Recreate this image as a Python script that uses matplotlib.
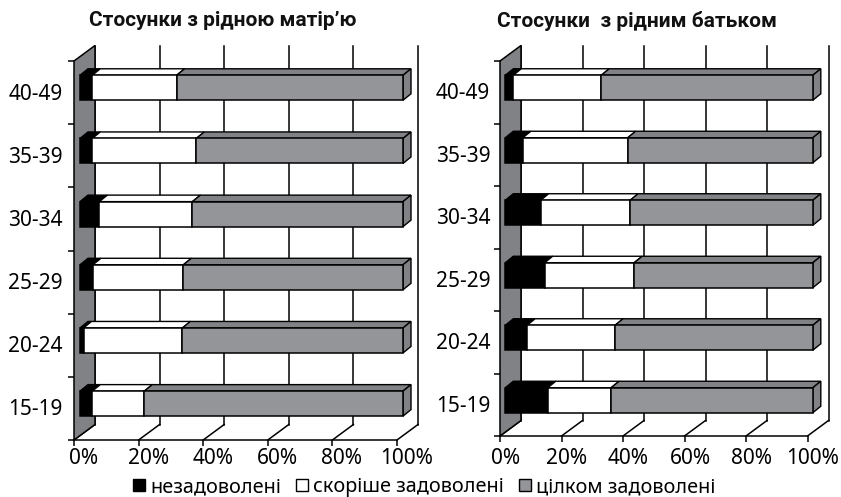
import matplotlib.pyplot as plt
from matplotlib.patches import Patch, Polygon
from matplotlib.transforms import Affine2D

plt.rcParams['font.family'] = ['Noto Sans', 'DejaVu Sans']

W, H = 841, 497

ages = ['15-19', '20-24', '25-29', '30-34', '35-39', '40-49']
series_names = ['незадоволені', 'скоріше задоволені', 'цілком задоволені']
x_ticks = [0, 20, 40, 60, 80, 100]

# значення знизу вгору, від 15-19 до 40-49
mother_no = [3.8, 1.1, 4.0, 6.0, 3.8, 3.8]
mother_rather = [16.1, 30.6, 28.0, 28.8, 32.2, 26.1]
mother_full = [80.1, 68.3, 68.0, 65.2, 64.0, 70.1]

father_no = [13.8, 7.1, 12.8, 11.5, 5.7, 2.6]
father_rather = [20.6, 28.6, 29.1, 29.1, 34.1, 28.6]
father_full = [65.6, 64.3, 58.1, 59.4, 60.2, 68.8]

colors = ['#000000', '#ffffff', '#939598']
top_colors = ['#000000', '#ffffff', '#808285']
wall_color = '#808285'


def draw_panel(rect, title, title_x, values, bar_shift, pad, label_shift, x_pad):
    x0, y0, x1, y1 = rect  # передня площина, пікселі від верхнього краю
    ax = fig.add_axes([x0 / W, 1 - y1 / H, (x1 - x0) / W, (y1 - y0) / H])
    ax.set_xlim(0, 100)
    ax.set_ylim(0, len(ages))
    px_x = (x1 - x0) / 100
    px_y = (y1 - y0) / len(ages)

    # глибина стінок і смуг у одиницях даних
    dx, dy = 21 / px_x, 15.5 / px_y
    bx, by = 8 / px_x, 6.5 / px_y
    sx, sy = bar_shift[0] / px_x, bar_shift[1] / px_y
    thick = 25 / px_y

    for v in x_ticks:
        ax.plot([v, v + dx], [0, dy], color='black', lw=1.1, clip_on=False, zorder=1)
        ax.plot([v + dx, v + dx], [dy, len(ages) + dy], color='black', lw=1.1,
                clip_on=False, zorder=1)

    ax.add_patch(Polygon([(0, 0), (dx, dy), (dx, len(ages) + dy), (0, len(ages))],
                         closed=True, fc=wall_color, ec='black', lw=1.1,
                         clip_on=False, zorder=2))

    for i in range(len(ages)):
        left = sx
        yb = i + 0.5 + sy - thick / 2
        yt = yb + thick
        for s in range(3):
            v = values[s][i]
            ax.add_patch(Polygon([(left, yt), (left + bx, yt + by),
                                  (left + v + bx, yt + by), (left + v, yt)],
                                 closed=True, fc=top_colors[s], ec='black', lw=1,
                                 clip_on=False, zorder=3))
            ax.barh(i + 0.5 + sy, v, height=thick, left=left, color=colors[s],
                    edgecolor='black', linewidth=1.1, clip_on=False, zorder=4)
            left += v
        ax.add_patch(Polygon([(left, yb), (left + bx, yb + by),
                              (left + bx, yt + by), (left, yt)],
                             closed=True, fc=top_colors[2], ec='black', lw=1,
                             clip_on=False, zorder=3))

    for side in ['top', 'right', 'left']:
        ax.spines[side].set_visible(False)
    ax.spines['bottom'].set_linewidth(1.1)
    ax.patch.set_visible(False)

    ax.set_xticks(x_ticks, [f'{v}%' for v in x_ticks], fontsize=15)
    ax.tick_params(axis='x', length=4, width=1.1, pad=x_pad)
    offset = Affine2D().translate(label_shift, 0)
    for label in ax.get_xticklabels():
        label.set_transform(label.get_transform() + offset)

    ax.set_yticks(range(len(ages) + 1), minor=True)
    ax.tick_params(axis='y', which='minor', length=4, width=1.1)
    ax.set_yticks([i + 0.5 for i in range(len(ages))], ages, fontsize=15)
    ax.tick_params(axis='y', which='major', length=0, pad=pad)
    up = Affine2D().translate(0, 1)
    for label in ax.get_yticklabels():
        label.set_transform(label.get_transform() + up)

    fig.text(title_x / W, 1 - 21 / H, title, ha='center', va='center',
             fontsize=15, fontweight='bold', family=['Roboto', 'DejaVu Sans'],
             color='#111111')


fig = plt.figure(figsize=(W / 100, H / 100), dpi=100)

draw_panel((74, 61, 397, 440), 'Стосунки з рідною матір’ю', 222.5,
           [mother_no, mother_rather, mother_full], (6, 4.8), 8, 9.5, 2)
draw_panel((500, 61, 807.5, 436), 'Стосунки  з рідним батьком', 637,
           [father_no, father_rather, father_full], (5.3, 4.5), 7, 5.5, 5)

handles = [Patch(fc=c, ec='black', lw=1) for c in colors]
fig.legend(handles, series_names, ncols=3, loc='center', frameon=False,
           bbox_to_anchor=(424 / W, 1 - 487 / H), fontsize=14.3,
           handlelength=0.62, handleheight=0.62, handletextpad=0.25,
           columnspacing=0.75, borderpad=0)

fig.savefig('out.png', dpi=100)
